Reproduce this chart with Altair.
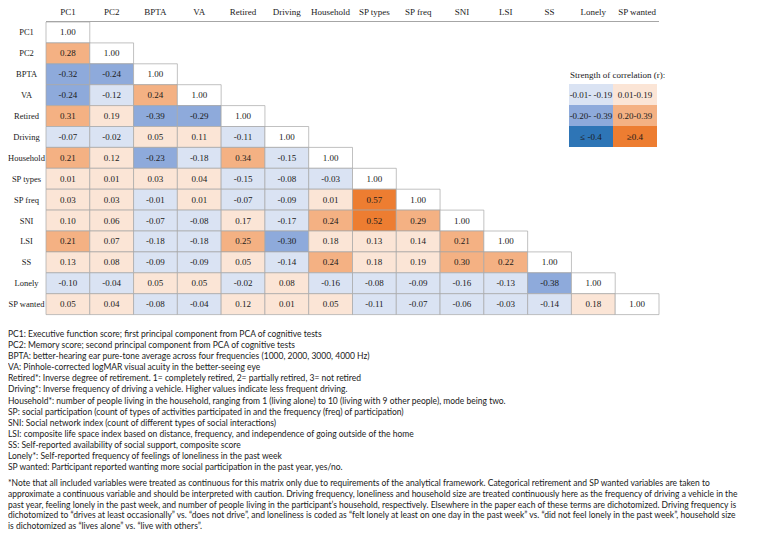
import altair as alt
import pandas as pd

# ---------------- data ----------------
variables = ["PC1", "PC2", "BPTA", "VA", "Retired", "Driving", "Household",
             "SP types", "SP freq", "SNI", "LSI", "SS", "Lonely", "SP wanted"]

r_pc1 = [1.00]
r_pc2 = [0.28, 1.00]
r_bpta = [-0.32, -0.24, 1.00]
r_va = [-0.24, -0.12, 0.24, 1.00]
r_retired = [0.31, 0.19, -0.39, -0.29, 1.00]
r_driving = [-0.07, -0.02, 0.05, 0.11, -0.11, 1.00]
r_household = [0.21, 0.12, -0.23, -0.18, 0.34, -0.15, 1.00]
r_sptypes = [0.01, 0.01, 0.03, 0.04, -0.15, -0.08, -0.03, 1.00]
r_spfreq = [0.03, 0.03, -0.01, 0.01, -0.07, -0.09, 0.01, 0.57, 1.00]
r_sni = [0.10, 0.06, -0.07, -0.08, 0.17, -0.17, 0.24, 0.52, 0.29, 1.00]
r_lsi = [0.21, 0.07, -0.18, -0.18, 0.25, -0.30, 0.18, 0.13, 0.14, 0.21, 1.00]
r_ss = [0.13, 0.08, -0.09, -0.09, 0.05, -0.14, 0.24, 0.18, 0.19, 0.30, 0.22, 1.00]
r_lonely = [-0.10, -0.04, 0.05, 0.05, -0.02, 0.08, -0.16, -0.08, -0.09, -0.16, -0.13, -0.38, 1.00]
r_spwanted = [0.05, 0.04, -0.08, -0.04, 0.12, 0.01, 0.05, -0.11, -0.07, -0.06, -0.03, -0.14, 0.18, 1.00]

matrix_rows = [r_pc1, r_pc2, r_bpta, r_va, r_retired, r_driving, r_household,
               r_sptypes, r_spfreq, r_sni, r_lsi, r_ss, r_lonely, r_spwanted]

category_names = ["diag", "neg1", "neg2", "neg3", "pos1", "pos2", "pos3"]
category_colors = ["#ffffff", "#dae3f3", "#8eaadb", "#2e75b6",
                   "#fbe5d6", "#f4b183", "#ed7d31"]

legend_title = "Strength of correlation (r):"
legend_sign = ["neg", "pos"]
legend_level = ["1", "2", "3"]
legend_labels = [["-0.01- -0.19", "0.01-0.19"],
                 ["-0.20- -0.39", "0.20-0.39"],
                 ["\u2264 -0.4", "\u22650.4"]]

footnotes = [
    "PC1: Executive function score; first principal component from PCA of cognitive tests",
    "PC2: Memory score; second principal component from PCA of cognitive tests",
    "BPTA: better-hearing ear pure-tone average across four frequencies (1000, 2000, 3000, 4000 Hz)",
    "VA: Pinhole-corrected logMAR visual acuity in the better-seeing eye",
    "Retired*: Inverse degree of retirement. 1= completely retired, 2= partially retired, 3= not retired",
    "Driving*: Inverse frequency of driving a vehicle. Higher values indicate less frequent driving.",
    "Household*: number of people living in the household, ranging from 1 (living alone) to 10 (living with 9 other people), mode being two.",
    "SP: social participation (count of types of activities participated in and the frequency (freq) of participation)",
    "SNI: Social network index (count of different types of social interactions)",
    "LSI: composite life space index based on distance, frequency, and independence of going outside of the home",
    "SS: Self-reported availability of social support, composite score",
    "Lonely*: Self-reported frequency of feelings of loneliness in the past week",
    "SP wanted: Participant reported wanting more social participation in the past year, yes/no.",
]

note_lines = [
    "*Note that all included variables were treated as continuous for this matrix only due to requirements of the analytical framework. Categorical retirement and SP wanted variables are taken to",
    "approximate a continuous variable and should be interpreted with caution. Driving frequency, loneliness and household size are treated continuously here as the frequency of driving a vehicle in the",
    "past year, feeling lonely in the past week, and number of people living in the participant\u2019s household, respectively. Elsewhere in the paper each of these terms are dichotomized. Driving frequency is",
    "dichotomized to \u201cdrives at least occasionally\u201d vs. \u201cdoes not drive\u201d, and loneliness is coded as \u201cfelt lonely at least on one day in the past week\u201d vs. \u201cdid not feel lonely in the past week\u201d, household size",
    "is dichotomized as \u201clives alone\u201d vs. \u201clive with others\u201d.",
]

# ---------------- tables ----------------
def category(v, diag):
    if diag:
        return "diag"
    a = abs(v)
    lvl = "1" if a < 0.195 else ("2" if a < 0.395 else "3")
    return ("neg" if v < 0 else "pos") + lvl

cells = []
for i, vals in enumerate(matrix_rows):
    for j, v in enumerate(vals):
        cells.append({"row": variables[i], "col": variables[j], "val": v,
                      "label": f"{v:.2f}", "cat": category(v, i == j)})
cells_df = pd.DataFrame(cells)

leg = []
for li, lvl in enumerate(legend_level):
    for si, sg in enumerate(legend_sign):
        leg.append({"sign": sg, "level": lvl, "label": legend_labels[li][si],
                    "cat": sg + lvl})
leg_df = pd.DataFrame(leg)

foot_df = pd.DataFrame({"i": list(range(len(footnotes))), "t": footnotes})
note_df = pd.DataFrame({"i": list(range(len(note_lines))), "t": note_lines})
head_df = pd.DataFrame({"col": variables})
rowlab_df = pd.DataFrame({"row": variables})

SERIF = "Liberation Serif"
SANS = "Lato"
INK = "#1a1a1a"

xs = alt.Scale(domain=variables, range=[38, 651], paddingInner=0, paddingOuter=0)
ys = alt.Scale(domain=variables, range=[14, 306.6], paddingInner=0, paddingOuter=0)
cs = alt.Scale(domain=category_names, range=category_colors)

cell_rect = alt.Chart(cells_df).mark_rect(stroke="#a6a6a6", strokeWidth=0.7).encode(
    x=alt.X("col:N", scale=xs, axis=None),
    y=alt.Y("row:N", scale=ys, axis=None),
    color=alt.Color("cat:N", scale=cs, legend=None),
)
cell_text = alt.Chart(cells_df).mark_text(font=SERIF, fontSize=9, color=INK).encode(
    x=alt.X("col:N", scale=xs, axis=None),
    y=alt.Y("row:N", scale=ys, axis=None),
    text="label:N",
)
header = alt.Chart(head_df).mark_text(font=SERIF, fontSize=9, color=INK).encode(
    x=alt.X("col:N", scale=xs, axis=None),
    y=alt.value(4),
    text="col:N",
)
header_line = alt.Chart(head_df).mark_rule(color="#a6a6a6", strokeWidth=1).encode(
    x=alt.value(38), x2=alt.value(651), y=alt.value(13.5)
)
row_labels = alt.Chart(rowlab_df).mark_text(font=SERIF, fontSize=8.5, color=INK).encode(
    x=alt.value(18.5),
    y=alt.Y("row:N", scale=ys, axis=None),
    text="row:N",
)

lxs = alt.Scale(domain=legend_sign, range=[561, 649], paddingInner=0, paddingOuter=0)
lys = alt.Scale(domain=legend_level, range=[76, 139], paddingInner=0, paddingOuter=0)
leg_rect = alt.Chart(leg_df).mark_rect().encode(
    x=alt.X("sign:N", scale=lxs, axis=None),
    y=alt.Y("level:N", scale=lys, axis=None),
    color=alt.Color("cat:N", scale=cs, legend=None),
)
leg_text = alt.Chart(leg_df).mark_text(font=SERIF, fontSize=9, color=INK).encode(
    x=alt.X("sign:N", scale=lxs, axis=None),
    y=alt.Y("level:N", scale=lys, axis=None),
    text="label:N",
)
leg_title = alt.Chart(pd.DataFrame({"t": [legend_title]})).mark_text(
    font=SERIF, fontSize=9, align="left", color=INK).encode(
    x=alt.value(562), y=alt.value(67), text="t:N")

foot = alt.Chart(foot_df).mark_text(font=SANS, fontSize=8.5, align="left",
                                     color=INK).encode(
    x=alt.value(0),
    y=alt.Y("i:Q", scale=alt.Scale(domain=[0, 12], range=[326, 459]), axis=None),
    text="t:N",
)
note = alt.Chart(note_df).mark_text(font=SANS, fontSize=8.5, align="left",
                                     color=INK).encode(
    x=alt.value(0),
    y=alt.Y("i:Q", scale=alt.Scale(domain=[0, 4], range=[475, 518]), axis=None),
    text="t:N",
)

chart = alt.layer(
    cell_rect, cell_text, header, header_line, row_labels,
    leg_rect, leg_text, leg_title, foot, note
).resolve_scale(x="independent", y="independent", color="independent").properties(
    width=744, height=527, padding=0, autosize=alt.AutoSizeParams(type="none"),
    background="white",
).configure_view(stroke=None)

chart.save("out.html", embed_options={"renderer": "svg", "actions": False})
